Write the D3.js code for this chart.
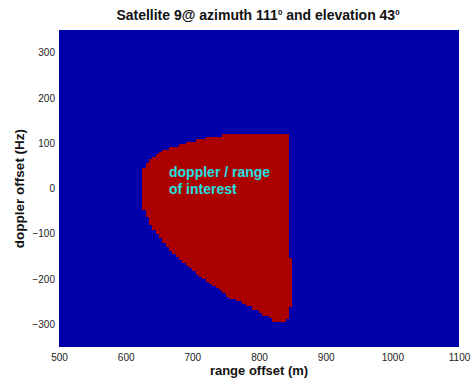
<!DOCTYPE html>
<html><head><meta charset="utf-8">
<script src="https://cdn.jsdelivr.net/npm/d3@7"></script>
<style>
html,body{margin:0;padding:0;background:#fff;}
svg{display:block;font-family:"Liberation Sans",Arial,sans-serif;}
</style></head>
<body>
<script>
// ---- data ----
const xTicks = [500, 600, 700, 800, 900, 1000, 1100];
const yTicks = [-300, -200, -100, 0, 100, 200, 300];
const cellWidth = 5; // range bin width (m)
const rangeStart = [625,630,635,640,645,650,655,660,665,670,675,680,685,690,695,700,705,710,715,720,
  725,730,735,740,745,750,755,760,765,770,775,780,785,790,795,800,805,810,815,820,825,830,835,840,845];
const dopplerTop = [46,56,65,70,76,81,85,85,92,92,92,98,98,103,103,103,109,109,109,114,
  114,114,114,114,120,120,120,120,120,120,120,120,120,120,120,120,120,120,120,120,120,120,120,120,-153];
const dopplerBottom = [-48,-63,-81,-92,-100,-109,-120,-129,-138,-145,-151,-158,-165,-171,-176,-182,-191,-195,-200,-206,
  -211,-215,-220,-224,-230,-240,-244,-244,-248,-248,-255,-259,-259,-268,-268,-274,-281,-281,-285,-294,-294,-294,-294,-289,-261];
const regionLabel = ["doppler / range", "of interest"];

const W = 474, H = 386;
const svg = d3.select("body").append("svg").attr("width", W).attr("height", H);
const x = d3.scaleLinear().domain([500, 1100]).range([59, 459]);
const y = d3.scaleLinear().domain([-350, 350]).range([347, 30]);

// background (image area)
svg.append("rect").attr("x", x(500)).attr("y", y(350))
  .attr("width", x(1100) - x(500)).attr("height", y(-350) - y(350))
  .attr("fill", "#0000aa");

// region cells
svg.append("g").attr("shape-rendering", "crispEdges").selectAll("rect")
  .data(rangeStart).join("rect")
  .attr("x", (d) => x(d))
  .attr("width", (d) => x(d + cellWidth) - x(d))
  .attr("y", (d, i) => y(dopplerTop[i]))
  .attr("height", (d, i) => y(dopplerBottom[i]) - y(dopplerTop[i]))
  .attr("fill", "#aa0000");

// axes
const xAxis = svg.append("g").attr("transform", `translate(0,${y(-350)})`)
  .call(d3.axisBottom(x).tickValues(xTicks).tickFormat(d3.format("d")).tickSize(0).tickPadding(7));
const yAxis = svg.append("g").attr("transform", `translate(${x(500)},0)`)
  .call(d3.axisLeft(y).tickValues(yTicks).tickFormat(d3.format("d")).tickSize(0).tickPadding(4));
[xAxis, yAxis].forEach(g => {
  g.select(".domain").remove();
  g.selectAll("text").attr("font-size", 10).attr("fill", "#222")
    .attr("font-family", "'Liberation Sans', Arial, sans-serif");
});

// region label
const lab = svg.append("text").attr("x", 169).attr("y", 177)
  .attr("fill", "#22e0e0").attr("font-size", 14).attr("font-weight", "bold");
regionLabel.forEach((t, i) => {
  lab.append("tspan").attr("x", 169).attr("dy", i === 0 ? 0 : 17).text(t);
});

// title
const title = svg.append("text").attr("x", 258).attr("y", 19.5)
  .attr("text-anchor", "middle").attr("font-size", 14).attr("font-weight", "bold").attr("fill", "#111");
title.append("tspan").text("Satellite 9@ azimuth 111");
title.append("tspan").attr("font-size", 8).attr("dy", -5).text("0");
title.append("tspan").attr("dy", 5).text(" and elevation 43");
title.append("tspan").attr("font-size", 8).attr("dy", -5).text("0");

// axis labels
svg.append("text").attr("x", 259).attr("y", 375).attr("text-anchor", "middle")
  .attr("font-size", 13).attr("font-weight", "bold").attr("fill", "#111")
  .text("range offset (m)");
svg.append("text").attr("transform", `translate(24,${(y(350) + y(-350)) / 2}) rotate(-90)`)
  .attr("text-anchor", "middle")
  .attr("font-size", 13.5).attr("font-weight", "bold").attr("fill", "#111")
  .text("doppler offset (Hz)");
</script>
</body></html>
